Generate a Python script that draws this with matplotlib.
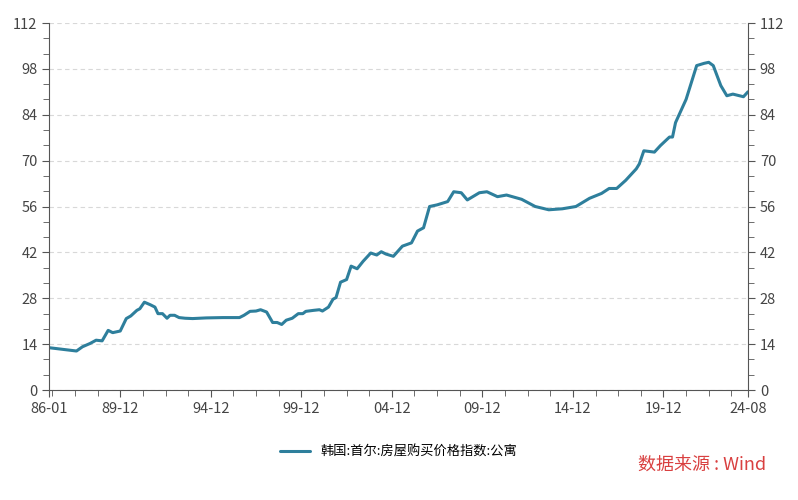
import matplotlib
matplotlib.use("Agg")
import matplotlib.pyplot as plt
from matplotlib.ticker import MultipleLocator, FixedLocator

plt.rcParams['font.family'] = ['Noto Sans CJK SC', 'DejaVu Sans']

# months since 1986-01
months = [0, 18, 22, 27, 31, 35, 39, 42, 47, 51, 54, 58, 60, 63, 67, 70, 72, 75, 78, 80,
          83, 86, 90, 95, 104, 115, 126, 129, 133, 137, 140, 144, 148, 151, 154, 157, 161,
          165, 168, 170, 175, 179, 181, 185, 188, 190, 193, 197, 200, 204, 208, 213, 217,
          220, 223, 228, 234, 240, 244, 248, 252, 257, 264, 268, 273, 277, 285, 290, 297,
          303, 313, 322, 331, 340, 349, 358, 366, 371, 376, 382, 389, 391, 394, 401, 405,
          411, 413, 415, 422, 429, 434, 437, 440, 445, 449, 453, 460, 463]
values = [12.9, 11.9, 13.2, 14.2, 15.2, 15.0, 18.2, 17.5, 18.0, 21.8, 22.6, 24.3, 24.8,
          26.8, 26.0, 25.3, 23.3, 23.3, 21.9, 22.8, 22.8, 22.1, 21.9, 21.8, 22.0, 22.1,
          22.1, 22.8, 24.0, 24.1, 24.5, 23.8, 20.6, 20.6, 20.0, 21.3, 21.9, 23.3, 23.3,
          24.0, 24.3, 24.5, 24.1, 25.3, 27.7, 28.2, 32.9, 33.7, 37.8, 37.0, 39.3, 41.8,
          41.2, 42.2, 41.5, 40.8, 43.9, 44.9, 48.5, 49.5, 56.0, 56.5, 57.5, 60.5, 60.2,
          58.0, 60.2, 60.5, 59.0, 59.5, 58.2, 56.0, 55.0, 55.3, 56.0, 58.5, 60.0, 61.5,
          61.5, 64.0, 67.5, 69.0, 73.0, 72.6, 74.6, 77.2, 77.2, 81.6, 88.7, 99.0, 99.7,
          100.0, 99.0, 92.9, 89.8, 90.3, 89.5, 91.0]
tick_pos = [0, 47, 107, 167, 227, 287, 347, 407, 463]
tick_labels = ['86-01', '89-12', '94-12', '99-12', '04-12', '09-12', '14-12', '19-12', '24-08']
series_name = '韩国:首尔:房屋购买价格指数:公寓'

fig = plt.figure(figsize=(7.98, 5.0), dpi=100)
ax = fig.add_axes([0.0618, 0.22, 0.8755, 0.734])
ax.plot(months, values, color='#2e7f9c', lw=2.2, label=series_name,
        solid_joinstyle='round', solid_capstyle='round')
ax.set_xlim(0, 463)
ax.set_ylim(0, 112)
ax.yaxis.set_major_locator(MultipleLocator(14))
ax.yaxis.set_minor_locator(MultipleLocator(14 / 3))
ax.set_xticks(tick_pos)
ax.set_xticklabels(tick_labels)
ax.xaxis.set_minor_locator(FixedLocator([m for m in range(2, 463, 15)]))
ax.grid(axis='y', ls=(0, (4, 3)), color='#d8d8d8', lw=0.8)
ax.spines['top'].set_visible(False)
for s in ['left', 'right', 'bottom']:
    ax.spines[s].set_color('#555555')
ax.tick_params(axis='both', which='both', colors='#555555', labelcolor='#444444', labelsize=10.5)
ax.tick_params(axis='y', which='both', left=True, right=True, labelleft=True, labelright=True)
ax.tick_params(which='major', length=5)
ax.tick_params(which='minor', length=4)
ax.legend(loc='upper center', bbox_to_anchor=(0.5, -0.12), frameon=False,
          handlelength=2.2, prop={'family': ['Noto Sans CJK SC', 'DejaVu Sans'], 'size': 9.5})
fig.text(0.96, 0.07, '数据来源 : Wind', color='#d94040', fontsize=13, ha='right', va='center')
fig.savefig('out.png', dpi=100)
